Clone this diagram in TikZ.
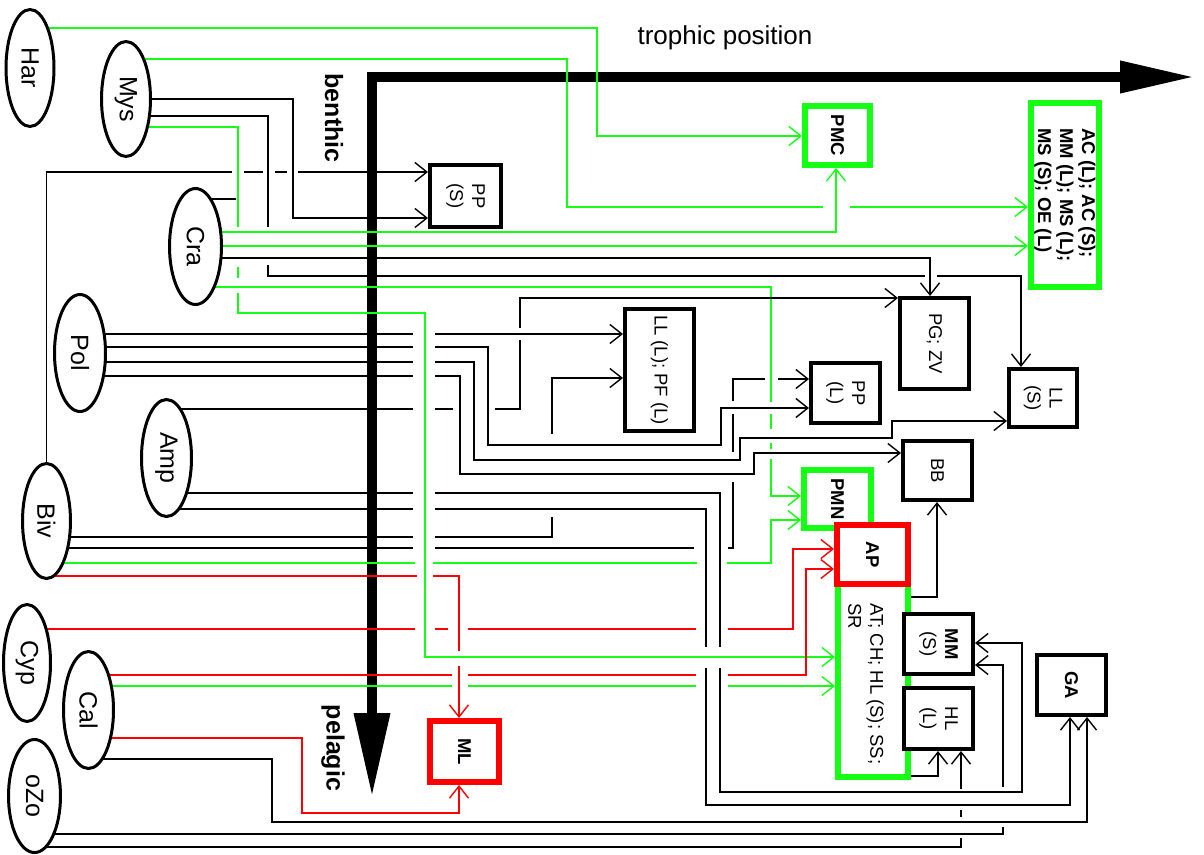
\documentclass[tikz,border=0pt]{standalone}
\usepackage{fontspec}
\setmainfont{Liberation Sans}
\usetikzlibrary{arrows.meta,shapes.geometric}
\definecolor{lgreen}{RGB}{20,255,20}
\definecolor{lred}{RGB}{255,0,0}
\pgfdeclarelayer{axes}
\pgfdeclarelayer{lines}
\pgfsetlayers{axes,lines,main}
\tikzset{
 conn/.style={line width=1.4pt},
 bl/.style={conn, draw=black},
 gr/.style={conn, draw=lgreen},
 rd/.style={conn, draw=lred},
 arr/.style={-{Straight Barb[length=12pt,width=19pt]}},
 ell/.style={ellipse, draw=black, line width=3pt, fill=white, inner sep=0pt},
 bbox/.style={rectangle, draw=black, line width=4pt, fill=white, inner sep=0pt},
 gbox/.style={bbox, draw=lgreen, line width=6pt},
 rbox/.style={bbox, draw=lred, line width=6pt},
 elab/.style={rotate=-90, font=\fontsize{25}{28}\selectfont, inner sep=0pt},
 blab/.style={rotate=-90, font=\fontsize{18.5}{22}\selectfont, inner sep=0pt, align=center},
 bblab/.style={blab, font=\bfseries\fontsize{18.5}{22}\selectfont},
 axisline/.style={line width=10pt},
 axlab/.style={font=\fontsize{26}{30}\selectfont, inner sep=0pt},
}
\begin{document}
\begin{tikzpicture}[x=1pt,y=-1pt]
\useasboundingbox (0,0) rectangle (1204,854);

% ---------- ellipses ----------
\node[ell, minimum width=48pt, minimum height=117pt] (Har) at (30,68) {};
\node[elab] (HarT) at (Har) {Har};
\node[ell, minimum width=49pt, minimum height=115pt] (Mys) at (126,99) {};
\node[elab] (MysT) at (Mys) {Mys};
\node[ell, minimum width=52pt, minimum height=116pt] (Cra) at (195.5,246.5) {};
\node[elab] (CraT) at (Cra) {Cra};
\node[ell, minimum width=51pt, minimum height=117pt] (Pol) at (80,353) {};
\node[elab] (PolT) at (Pol) {Pol};
\node[ell, minimum width=50pt, minimum height=117pt] (Amp) at (166.5,458) {};
\node[elab] (AmpT) at (Amp) {Amp};
\node[ell, minimum width=48pt, minimum height=115pt] (Biv) at (46.5,521) {};
\node[elab] (BivT) at (Biv) {Biv};
\node[ell, minimum width=47pt, minimum height=117pt] (Cyp) at (27,663) {};
\node[elab] (CypT) at (Cyp) {Cyp};
\node[ell, minimum width=50pt, minimum height=117pt] (Cal) at (88.5,710) {};
\node[elab] (CalT) at (Cal) {Cal};
\node[ell, minimum width=52pt, minimum height=113pt] (oZo) at (34.5,796) {};
\node[elab] (oZoT) at (oZo) {oZo};

% ---------- boxes ----------
\node[bbox, minimum width=71pt, minimum height=62pt] (PPS) at (465.5,196) {};
\node[blab] (PPSt) at (PPS) {PP\\(S)};
\node[gbox, minimum width=65pt, minimum height=59pt] (PMC) at (837.5,135.5) {};
\node[bblab] (PMCt) at (PMC) {PMC};
\node[gbox, minimum width=68pt, minimum height=184pt] (AC) at (1065,195) {};
\node[bblab, align=left] (ACt) at (AC) {AC (L); AC (S);\\MM (L); MS (L);\\MS (S); OE (L)};
\node[bbox, minimum width=69pt, minimum height=122pt] (LLL) at (659.5,370) {};
\node[blab] (LLLt) at (LLL) {LL (L); PF (L)};
\node[bbox, minimum width=69pt, minimum height=91pt] (PGZV) at (934.5,343.5) {};
\node[blab] (PGZVt) at (PGZV) {PG; ZV};
\node[bbox, minimum width=69pt, minimum height=60pt] (PPL) at (845.5,393) {};
\node[blab] (PPLt) at (PPL) {PP\\(L)};
\node[bbox, minimum width=68pt, minimum height=58pt] (LLS) at (1043,398) {};
\node[blab] (LLSt) at (LLS) {LL\\(S)};
\node[bbox, minimum width=69pt, minimum height=59pt] (BB) at (937.5,470.5) {};
\node[blab] (BBt) at (BB) {BB};
\node[gbox, minimum width=67pt, minimum height=58pt] (PMN) at (837.5,499) {};
\node[bblab] (PMNt) at (PMN) {PMN};
\node[gbox, minimum width=70pt, minimum height=229pt] (AT) at (873,662.5) {};
\node[blab, align=left, anchor=west] (ATt) at (866,603) {AT; CH; HL (S); SS;\\SR};
\node[rbox, minimum width=71pt, minimum height=59pt] (AP) at (872.5,554.5) {};
\node[bblab] (APt) at (AP) {AP};
\node[bbox, minimum width=69pt, minimum height=60pt] (MMS) at (938.5,644) {};
\node[blab] (MMSt) at (MMS) {\textbf{MM}\\(S)};
\node[bbox, minimum width=69pt, minimum height=61pt] (HLL) at (938.5,718.5) {};
\node[blab] (HLLt) at (HLL) {HL\\(L)};
\node[bbox, minimum width=69pt, minimum height=60pt] (GA) at (1071.5,685) {};
\node[bblab] (GAt) at (GA) {GA};
\node[rbox, minimum width=69pt, minimum height=61pt] (ML) at (464.5,751.5) {};
\node[bblab] (MLt) at (ML) {ML};

% ---------- axis labels ----------
\node[axlab] (trop) at (725,38) {trophic position};
\node[axlab, rotate=-90, font=\bfseries\fontsize{25}{30}\selectfont] (benth) at (334,118) {benthic};
\node[axlab, rotate=-90, font=\bfseries\fontsize{25}{30}\selectfont] (pelag) at (333,748) {pelagic};

% ---------- axes ----------
\begin{pgfonlayer}{axes}
\draw[axisline,-{Triangle[length=75pt,width=30pt]}] (367,77) -- (1195,77);
\draw[axisline,-{Triangle[length=84pt,width=34pt]}] (372,72) -- (372,797);
\end{pgfonlayer}

% ---------- connectors ----------
\begin{pgfonlayer}{lines}
% Har
\draw[gr,arr] (Har.center |- 0,28) -- (597,28) -- (597,136) -- (PMC.west |- 0,136);
% Mys
\draw[gr] (Mys.center |- 0,59) -- (567,59) -- (567,207) -- (823,207);
\draw[gr,arr] (850,207) -- (AC.west |- 0,207);
\draw[bl,arr] (Mys.center |- 0,99) -- (293,99) -- (293,218) -- (PPS.west |- 0,218);
\draw[bl] (Mys.center |- 0,116) -- (268,116) -- (268,227);
\draw[bl] (268,265) -- (268,276) -- (925,276);
\draw[bl,arr] (937,276) -- (1021,276) -- (LLS.north -| 1021,0);
\draw[gr] (Mys.center |- 0,127) -- (238,127) -- (238,227);
\draw[gr] (238,267) -- (238,278);
\draw[gr,arr] (238,293) -- (238,313) -- (425,313) -- (425,657) -- (AT.west |- 0,657);
% Cra
\draw[bl] (Cra.center |- 0,199) -- (236,199);
\draw[gr,arr] (Cra.center |- 0,232) -- (836,232) -- (PMC.south -| 836,0);
\draw[gr,arr] (Cra.center |- 0,246) -- (AC.west |- 0,246);
\draw[bl,arr] (Cra.center |- 0,258) -- (930,258) -- (PGZV.north -| 930,0);
\draw[gr] (Cra.center |- 0,287) -- (771,287) -- (771,402);
\draw[gr] (771,414) -- (771,429);
\draw[gr] (771,443) -- (771,449);
\draw[gr,arr] (771,459) -- (771,496) -- (PMN.west |- 0,496);
% Biv to PP(S)
\draw[bl] (Biv.north) -- (Biv.north |- 0,172) -- (232,172);
\draw[bl] (244,172) -- (263,172);
\draw[bl] (275,172) -- (287,172);
\draw[bl,arr] (298,172) -- (PPS.west |- 0,172);
% Pol
\draw[bl] (Pol.center |- 0,334) -- (413,334);
\draw[bl,arr] (435,334) -- (LLL.west |- 0,334);
\draw[bl] (Pol.center |- 0,347) -- (413,347);
\draw[bl,arr] (435,347) -- (488,347) -- (488,445) -- (721,445) -- (721,408) -- (PPL.west |- 0,408);
\draw[bl] (Pol.center |- 0,362) -- (413,362);
\draw[bl,arr] (435,362) -- (474,362) -- (474,460) -- (740,460) -- (740,438) -- (892,438) -- (892,421) -- (LLS.west |- 0,421);
\draw[bl] (Pol.center |- 0,376) -- (413,376);
\draw[bl,arr] (435,376) -- (460,376) -- (460,474) -- (754,474) -- (754,453) -- (BB.west |- 0,453);
% Amp
\draw[bl] (Amp.center |- 0,409) -- (413,409);
\draw[bl] (435,409) -- (453,409);
\draw[bl] (495,409) -- (520,409) -- (520,340);
\draw[bl,arr] (520,328) -- (520,298) -- (PGZV.west |- 0,298);
\draw[bl] (Amp.center |- 0,493) -- (413,493);
\draw[bl] (435,493) -- (720,493) -- (720,647);
\draw[bl,arr] (720,668) -- (720,792) -- (1022,792) -- (1022,643) -- (MMS.east |- 0,643);
\draw[bl] (Amp.center |- 0,509) -- (413,509);
\draw[bl] (435,509) -- (706,509) -- (706,647);
\draw[bl,arr] (706,668) -- (706,805) -- (1070,805) -- (GA.south -| 1070,0);
% Biv
\draw[bl] (Biv.center |- 0,537) -- (413,537);
\draw[bl] (435,537) -- (552,537) -- (552,517);
\draw[bl,arr] (552,434) -- (552,378) -- (LLL.west |- 0,378);
\draw[bl] (Biv.center |- 0,548) -- (413,548);
\draw[bl] (435,548) -- (694,548);
\draw[bl] (728,548) -- (733,548) -- (733,482);
\draw[bl] (733,452) -- (733,414);
\draw[bl] (733,401) -- (733,379) -- (765,379);
\draw[bl,arr] (778,379) -- (PPL.west |- 0,379);
\draw[gr] (Biv.center |- 0,563) -- (415,563);
\draw[gr] (433,563) -- (697,563);
\draw[gr,arr] (727,563) -- (771,563) -- (771,520) -- (PMN.west |- 0,520);
\draw[rd] (Biv.center |- 0,576) -- (417,576);
\draw[rd] (433,576) -- (459,576) -- (459,651);
\draw[rd,arr] (459,666) -- (ML.north -| 459,0);
% Cyp
\draw[rd] (Cyp.center |- 0,629) -- (415,629);
\draw[rd] (435,629) -- (448,629);
\draw[rd] (468,629) -- (696,629);
\draw[rd,arr] (728,629) -- (793,629) -- (793,549) -- (AP.west |- 0,549);
% Cal
\draw[rd] (Cal.center |- 0,675) -- (452,675);
\draw[rd] (468,675) -- (696,675);
\draw[rd,arr] (728,675) -- (806,675) -- (806,569) -- (AP.west |- 0,569);
\draw[gr] (Cal.center |- 0,686) -- (452,686);
\draw[gr] (468,686) -- (696,686);
\draw[gr,arr] (728,686) -- (AT.west |- 0,686);
\draw[rd,arr] (Cal.center |- 0,738) -- (302,738) -- (302,813) -- (459,813) -- (ML.south -| 459,0);
\draw[bl,arr] (Cal.center |- 0,759) -- (272,759) -- (272,822) -- (1087,822) -- (GA.south -| 1087,0);
% oZo
\draw[bl] (oZo.center |- 0,834) -- (1003,834) -- (1003,827);
\draw[bl,arr] (1003,787) -- (1003,665) -- (MMS.east |- 0,665);
\draw[bl] (oZo.center |- 0,847) -- (961,847) -- (961,838);
\draw[bl] (961,817) -- (961,810);
\draw[bl,arr] (961,789) -- (HLL.south -| 961,0);
% AT box outputs
\draw[bl,arr] (AT.east |- 0,597) -- (937,597) -- (BB.south -| 937,0);
\draw[bl,arr] (AT.east |- 0,776) -- (938,776) -- (HLL.south -| 938,0);
\end{pgfonlayer}
\end{tikzpicture}
\end{document}
